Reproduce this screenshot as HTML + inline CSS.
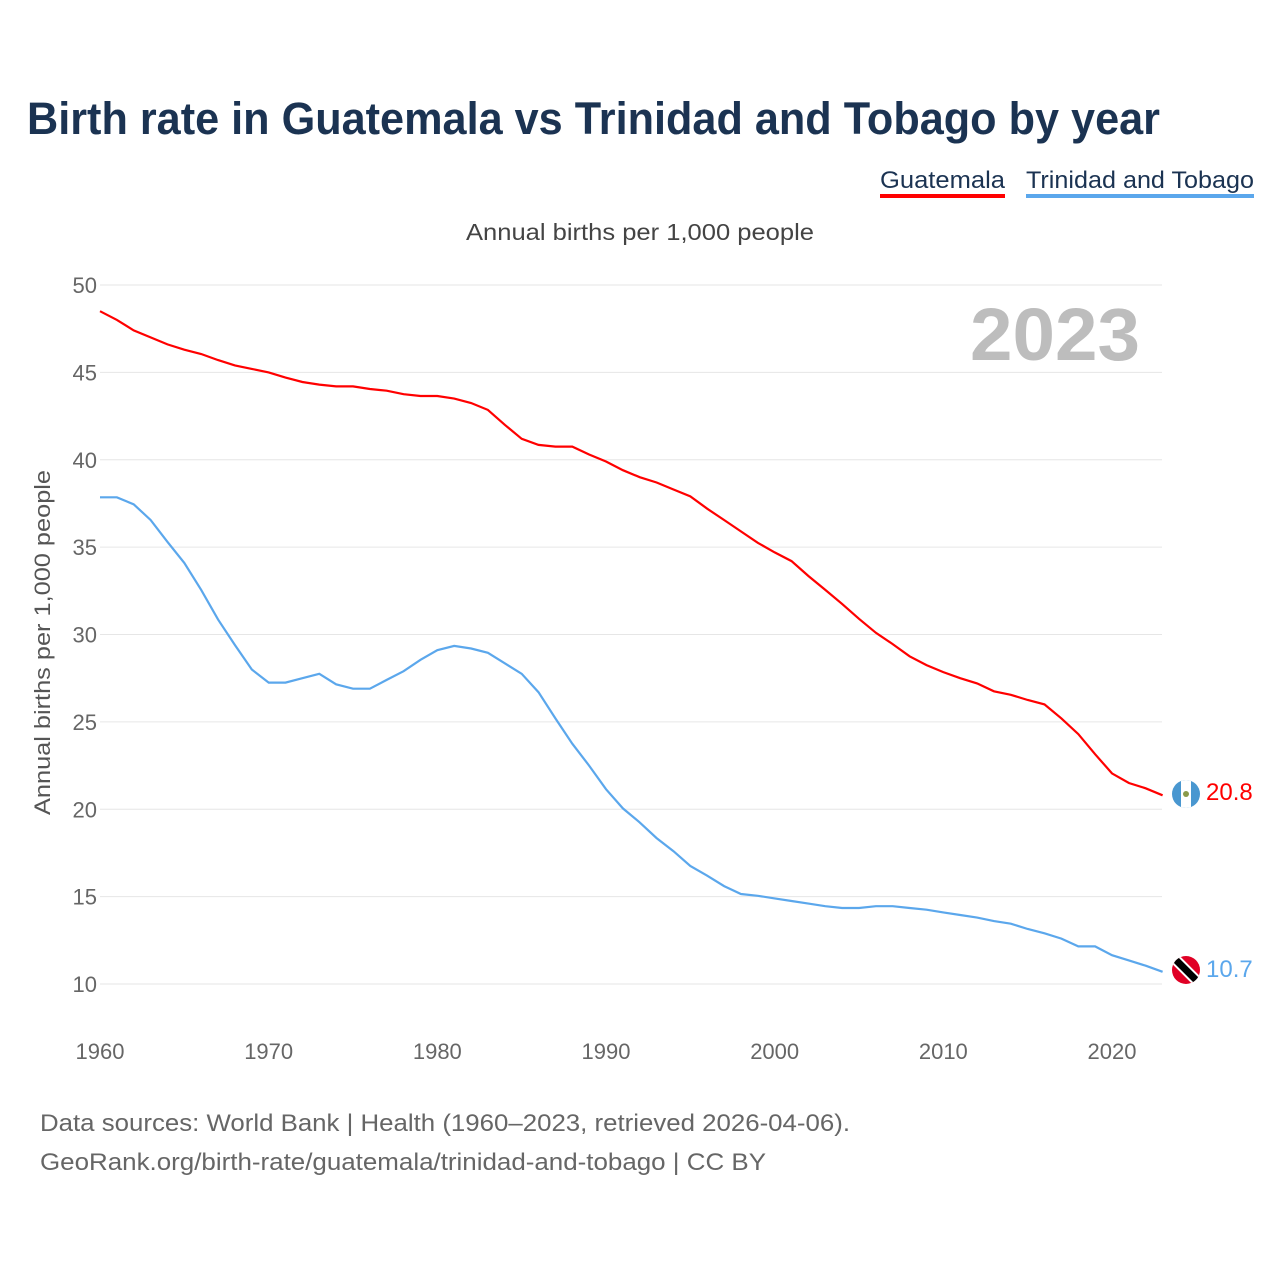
<!DOCTYPE html>
<html><head><meta charset="utf-8"><style>
body{margin:0;background:#fff;font-family:"Liberation Sans",sans-serif;}
#wrap{position:relative;width:1280px;height:1280px;overflow:hidden;}
</style></head><body><div id="wrap">
<svg id="chart" width="1280" height="1280">
<text x="27" y="134" font-size="45" font-weight="bold" fill="#1b3352" textLength="1133" lengthAdjust="spacingAndGlyphs">Birth rate in Guatemala vs Trinidad and Tobago by year</text>
<g><text x="880" y="188" font-size="24" fill="#1b3352" textLength="125" lengthAdjust="spacingAndGlyphs">Guatemala</text><rect x="880" y="194" width="125" height="4" fill="#ff0000"/></g>
<g><text x="1026" y="188" font-size="24" fill="#1b3352" textLength="228" lengthAdjust="spacingAndGlyphs">Trinidad and Tobago</text><rect x="1026" y="194" width="228" height="4" fill="#5ba7ec"/></g>
<text x="466" y="240" font-size="23" fill="#444" textLength="348" lengthAdjust="spacingAndGlyphs">Annual births per 1,000 people</text>
<text x="1140" y="360" font-size="74" font-weight="bold" fill="#bdbdbd" text-anchor="end" textLength="170" lengthAdjust="spacingAndGlyphs">2023</text>
<text transform="translate(50,815) rotate(-90)" font-size="22" fill="#555" textLength="345" lengthAdjust="spacingAndGlyphs">Annual births per 1,000 people</text>
<g id="grid"></g><g id="lines"></g>
<g><clipPath id="cg"><circle cx="1186" cy="794" r="14"/></clipPath><g clip-path="url(#cg)"><rect x="1172" y="780" width="28" height="28" fill="#4997d0"/><rect x="1181" y="780" width="10" height="28" fill="#fff"/><circle cx="1186" cy="794" r="3" fill="#8a9a4a"/></g></g>
<g><clipPath id="ct"><circle cx="1186" cy="970" r="14"/></clipPath><g clip-path="url(#ct)"><rect x="1172" y="956" width="28" height="28" fill="#e00025"/><line x1="1172" y1="956" x2="1200" y2="984" stroke="#fff" stroke-width="11"/><line x1="1172" y1="956" x2="1200" y2="984" stroke="#000" stroke-width="7"/></g></g>
<text x="1206" y="800" font-size="24" fill="#ff0000">20.8</text>
<text x="1206" y="977" font-size="24" fill="#5ba7ec">10.7</text>
<text x="40" y="1131" font-size="24" fill="#666" textLength="810" lengthAdjust="spacingAndGlyphs">Data sources: World Bank | Health (1960–2023, retrieved 2026-04-06).</text>
<text x="40" y="1170" font-size="24" fill="#666" textLength="726" lengthAdjust="spacingAndGlyphs">GeoRank.org/birth-rate/guatemala/trinidad-and-tobago | CC BY</text>
</svg></div>
<script>
const years=[];for(let y=1960;y<=2023;y++)years.push(y);
const guatemala=[48.5,48.0,47.4,47.0,46.6,46.3,46.05,45.7,45.4,45.2,45.0,44.7,44.45,44.3,44.2,44.2,44.05,43.95,43.75,43.65,43.65,43.5,43.25,42.85,42.0,41.2,40.85,40.75,40.75,40.3,39.9,39.4,39.0,38.7,38.3,37.9,37.2,36.55,35.9,35.25,34.7,34.2,33.35,32.55,31.75,30.9,30.1,29.45,28.75,28.25,27.85,27.5,27.2,26.75,26.55,26.25,26.0,25.2,24.3,23.15,22.05,21.5,21.2,20.8];
const trinidad=[37.85,37.85,37.45,36.55,35.3,34.1,32.55,30.85,29.4,28.0,27.25,27.25,27.5,27.75,27.15,26.9,26.9,27.4,27.9,28.55,29.1,29.35,29.2,28.95,28.35,27.75,26.7,25.2,23.75,22.5,21.15,20.05,19.25,18.35,17.6,16.75,16.2,15.6,15.15,15.05,14.9,14.75,14.6,14.45,14.35,14.35,14.45,14.45,14.35,14.25,14.1,13.95,13.8,13.6,13.45,13.15,12.9,12.6,12.15,12.15,11.65,11.35,11.05,10.7];
const yTicks=[10,15,20,25,30,35,40,45,50];
const xTicks=[1960,1970,1980,1990,2000,2010,2020];
const NS="http://www.w3.org/2000/svg";
const xs=v=>100+(v-1960)*(1012/60);
const ys=v=>984-(v-10)*(699/40);
const grid=document.getElementById('grid'),lines=document.getElementById('lines');
function mk(t,a,p){const e=document.createElementNS(NS,t);for(const k in a)e.setAttribute(k,a[k]);p.appendChild(e);return e;}
yTicks.forEach(t=>{
 const l=mk('line',{x1:100,x2:1162,y1:ys(t),y2:ys(t),stroke:'#e6e6e6','stroke-width':1},grid);
 
 
 const tx=mk('text',{x:97,y:ys(t)+8,'font-size':22,fill:'#666','text-anchor':'end'},grid);tx.textContent=t;
 
 
});
xTicks.forEach(t=>{
 const tx=mk('text',{x:xs(t),y:1059,'font-size':22,fill:'#666','text-anchor':'middle'},grid);tx.textContent=t;
 
 
});
function line(d,c,n){
 const p=mk('path',{d:d.map((v,i)=>(i?'L':'M')+xs(years[i]).toFixed(1)+','+ys(v).toFixed(1)).join(''),fill:'none',stroke:c,'stroke-width':2.2},lines);
 
 
}
line(guatemala,'#ff0000','line-guatemala');
line(trinidad,'#5ba7ec','line-trinidad');
</script></body></html>
